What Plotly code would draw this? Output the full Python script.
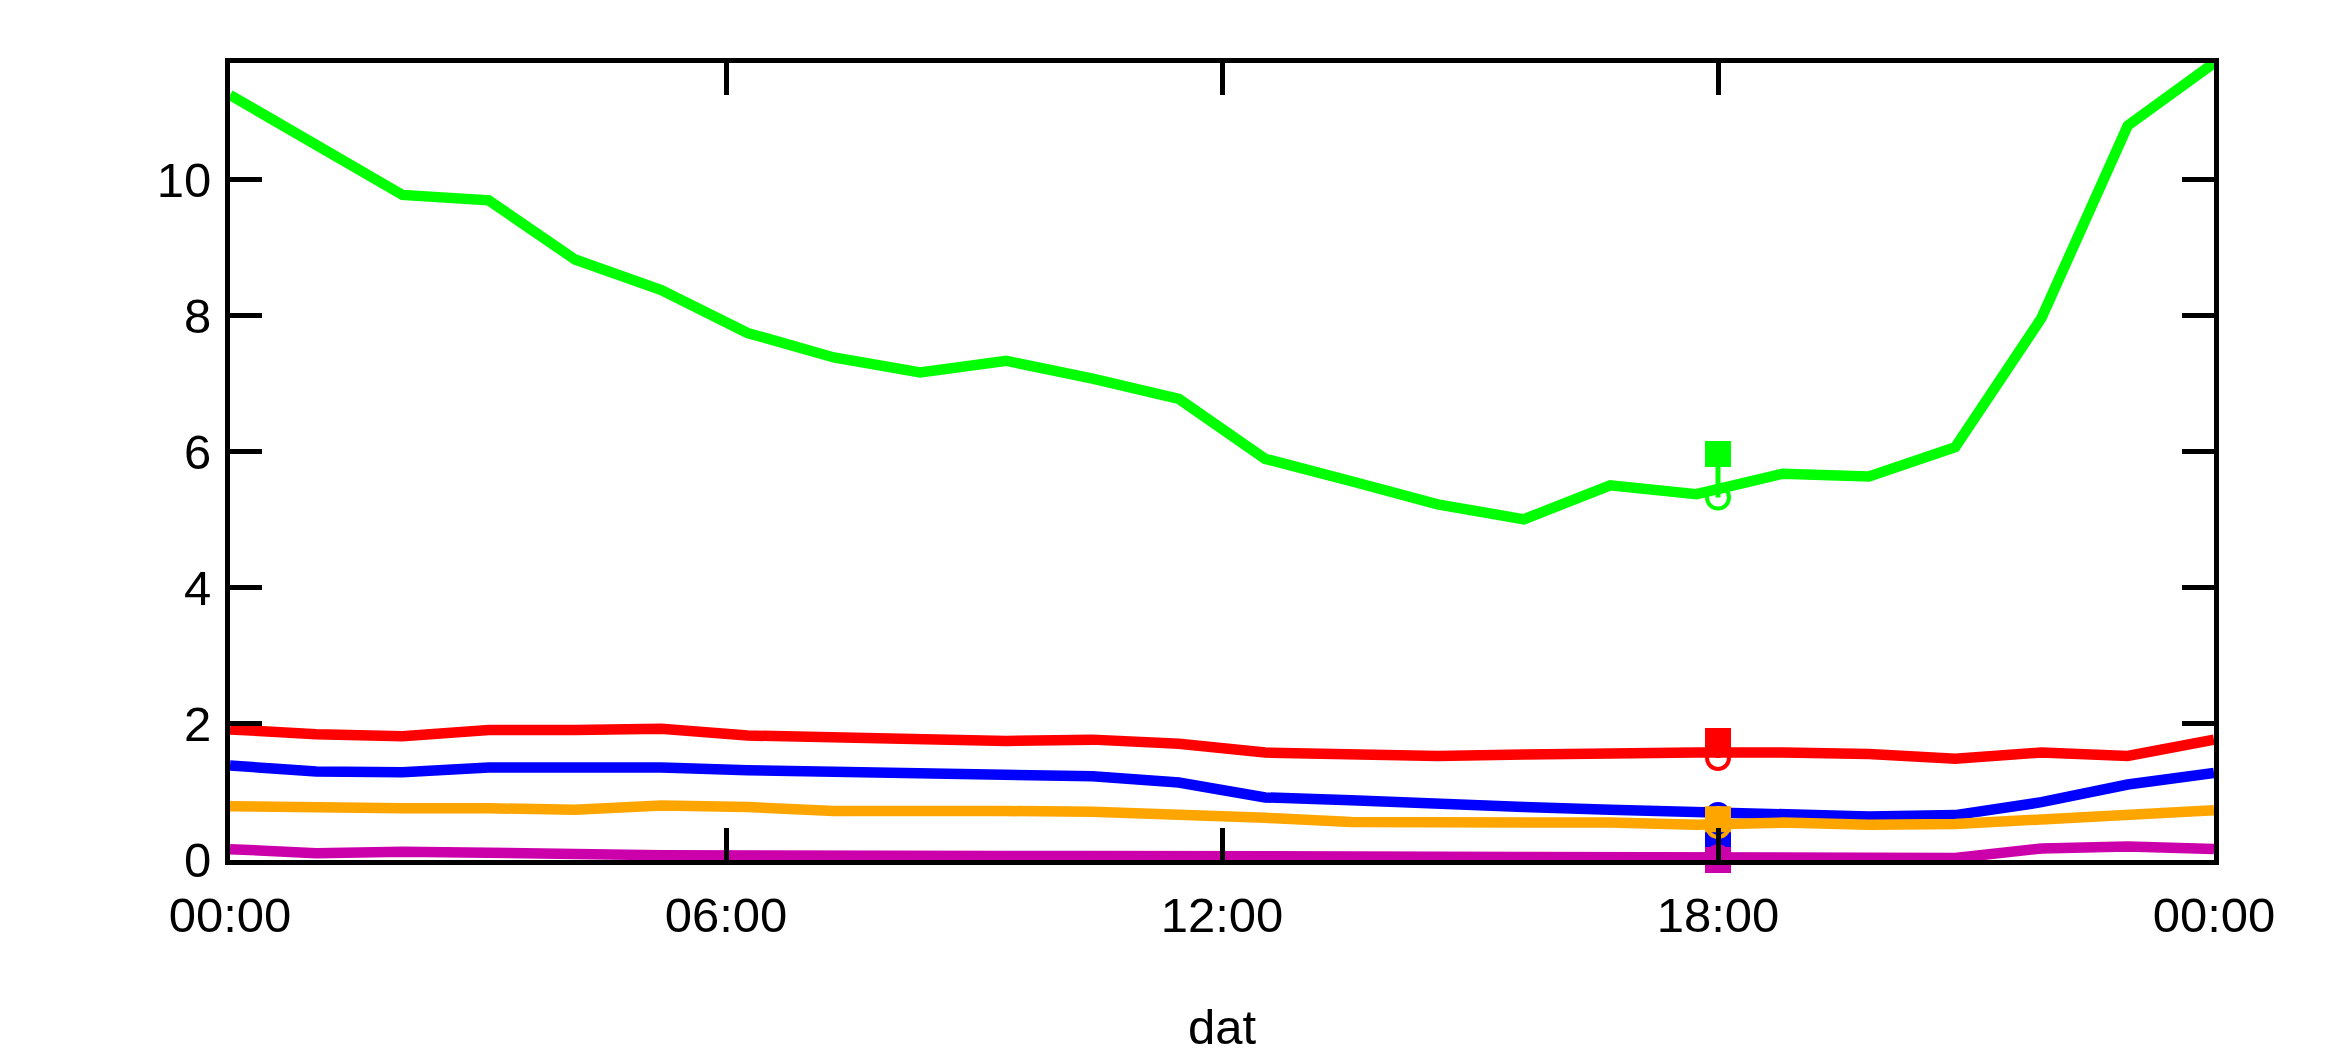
import pandas as pd
import plotly.graph_objects as go

# ---- data ----
n_points = 24
times = pd.date_range("2000-01-01 00:00", "2000-01-02 00:00", periods=n_points)

green = [11.25, 10.5, 9.78, 9.70, 8.83, 8.38, 7.75, 7.39, 7.17, 7.34, 7.08, 6.78,
         5.90, 5.57, 5.23, 5.01, 5.51, 5.38, 5.68, 5.64, 6.07, 7.97, 10.8, 11.72]
red = [1.92, 1.85, 1.82, 1.91, 1.91, 1.93, 1.83, 1.81, 1.77, 1.75, 1.77, 1.71,
       1.58, 1.55, 1.53, 1.55, 1.58, 1.58, 1.58, 1.56, 1.49, 1.58, 1.53, 1.77]
blue = [1.39, 1.30, 1.29, 1.36, 1.36, 1.36, 1.32, 1.30, 1.27, 1.27, 1.23, 1.14,
        0.92, 0.88, 0.82, 0.78, 0.74, 0.70, 0.67, 0.64, 0.66, 0.85, 1.11, 1.28]
orange = [0.79, 0.76, 0.76, 0.76, 0.74, 0.80, 0.78, 0.72, 0.73, 0.72, 0.71, 0.68,
          0.62, 0.56, 0.54, 0.55, 0.55, 0.52, 0.55, 0.52, 0.53, 0.60, 0.66, 0.73]
magenta = [0.16, 0.10, 0.12, 0.12, 0.09, 0.07, 0.06, 0.06, 0.05, 0.06, 0.06, 0.06,
           0.05, 0.03, 0.03, 0.04, 0.04, 0.03, 0.03, 0.03, 0.03, 0.17, 0.20, 0.16]

marker_time = "2000-01-01 18:00"
square_vals = {"green": 5.97, "red": 1.75, "blue": 0.31, "orange": 0.60, "magenta": 0.0}
circle_vals = {"green": 5.33, "red": 1.50, "blue": 0.66, "orange": 0.50, "magenta": 0.04}

colors = {"green": "#00FF00", "red": "#FF0000", "blue": "#0000FF",
          "orange": "#FFA500", "magenta": "#CC00AA"}
series = {"green": green, "red": red, "blue": blue, "orange": orange, "magenta": magenta}

tick_times = pd.date_range("2000-01-01 00:00", "2000-01-02 00:00", freq="6h")
tick_text = ["00:00", "06:00", "12:00", "18:00", "00:00"]
y_ticks = [0, 2, 4, 6, 8, 10]

# ---- figure ----
fig = go.Figure()
for name, vals in series.items():
    fig.add_trace(go.Scatter(x=times, y=vals, mode="lines",
                             line=dict(color=colors[name], width=10.5),
                             showlegend=False, cliponaxis=True))

for name in series:
    c = colors[name]
    fig.add_trace(go.Scatter(x=[marker_time, marker_time],
                             y=[square_vals[name], circle_vals[name]],
                             mode="lines", line=dict(color=c, width=5),
                             showlegend=False, cliponaxis=False))
    fig.add_trace(go.Scatter(x=[marker_time], y=[circle_vals[name]], mode="markers",
                             marker=dict(symbol="circle-open", size=22, color=c,
                                         line=dict(color=c, width=4)),
                             showlegend=False, cliponaxis=False))
    fig.add_trace(go.Scatter(x=[marker_time], y=[square_vals[name]], mode="markers",
                             marker=dict(symbol="square", size=26, color=c,
                                         line=dict(width=0)),
                             showlegend=False, cliponaxis=False))

axis_font = dict(family="Liberation Sans, Arial, sans-serif", size=49, color="black")

fig.update_layout(
    width=2330, height=1050,
    margin=dict(l=222, r=124, t=55, b=192),
    paper_bgcolor="white", plot_bgcolor="white",
    font=axis_font,
    showlegend=False,
)
fig.update_xaxes(
    range=[tick_times[0], tick_times[-1]],
    tickmode="array", tickvals=list(tick_times), ticktext=tick_text,
    ticks="inside", ticklen=32, tickwidth=5, tickcolor="black",
    showline=True, linewidth=5, linecolor="black", mirror="ticks",
    showgrid=False, zeroline=False,
    tickfont=axis_font, ticklabelstandoff=8,
    title=dict(text="dat", font=axis_font, standoff=70),
)
fig.update_yaxes(
    range=[0, 11.72],
    tickmode="array", tickvals=y_ticks,
    ticks="inside", ticklen=32, tickwidth=5, tickcolor="black",
    showline=True, linewidth=5, linecolor="black", mirror="ticks",
    showgrid=False, zeroline=False,
    tickfont=axis_font, ticklabelstandoff=4,
)

fig.write_html("out.html")
